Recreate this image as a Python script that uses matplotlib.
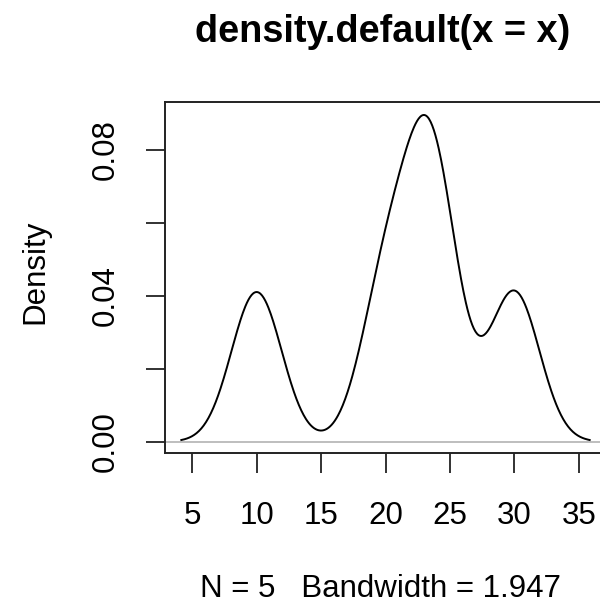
import numpy as np
import matplotlib
matplotlib.use("Agg")
import matplotlib.pyplot as plt

# Raw sample behind the density estimate
x_data = [10, 20, 23, 24, 30]
x_ticks = [5, 10, 15, 20, 25, 30, 35]
y_ticks = [0.00, 0.02, 0.04, 0.06, 0.08]
y_tick_labels = ["0.00", "", "0.04", "", "0.08"]
title = "density.default(x = x)"

# R's density.default: gaussian kernel, bw.nrd0, 512 points, cut = 3
x = np.asarray(x_data, dtype=float)
n = len(x)
q75, q25 = np.percentile(x, [75, 25])
bw = 0.9 * min(np.std(x, ddof=1), (q75 - q25) / 1.34) * n ** (-0.2)
grid = np.linspace(x.min() - 3 * bw, x.max() + 3 * bw, 512)
dens = np.exp(-0.5 * ((grid[:, None] - x[None, :]) / bw) ** 2).sum(axis=1) / (n * bw * np.sqrt(2 * np.pi))

plt.rcParams['font.family'] = ['Liberation Sans', 'DejaVu Sans']

W, H = 600, 603
fig = plt.figure(figsize=(W / 100, H / 100), dpi=100)
L, R, T, B = 165, 606, 102, 453
ax = fig.add_axes([L / W, 1 - B / H, (R - L) / W, (B - T) / H])

ax.axhline(0, color="#bebebe", lw=1.4, zorder=1)
ax.plot(grid, dens, color="black", lw=1.4, zorder=2)

xr = grid.max() - grid.min()
ax.set_xlim(grid.min() - 0.04 * xr, grid.max() + 0.04 * xr)
ylo, yhi = dens.min(), dens.max()
yr = yhi - ylo
ax.set_ylim(ylo - 0.04 * yr, yhi + 0.04 * yr)

ax.set_xticks(x_ticks)
ax.set_xticklabels([str(t) for t in x_ticks])
ax.set_yticks(y_ticks)
ax.set_yticklabels(y_tick_labels, rotation=90, va="center")

fs = 22.5
ax.tick_params(axis="x", length=14.5, width=1.3, pad=20, labelsize=fs, color="#222222")
ax.tick_params(axis="y", length=14, width=1.3, pad=18, labelsize=fs, color="#222222")
for s in ax.spines.values():
    s.set_linewidth(1.4)
    s.set_color("#222222")

fig.text(383 / W, 1 - 42 / H, title, ha="center", va="baseline",
         fontsize=27.3, fontweight="bold")
fig.text(35 / W, 1 - 272 / H, "Density", rotation=90, ha="center", va="center", fontsize=fs)
fig.text(381 / W, 1 - 597 / H, f"N = {n}   Bandwidth = {bw:.3f}", ha="center", va="baseline", fontsize=fs)

fig.savefig("out.png", dpi=100)
